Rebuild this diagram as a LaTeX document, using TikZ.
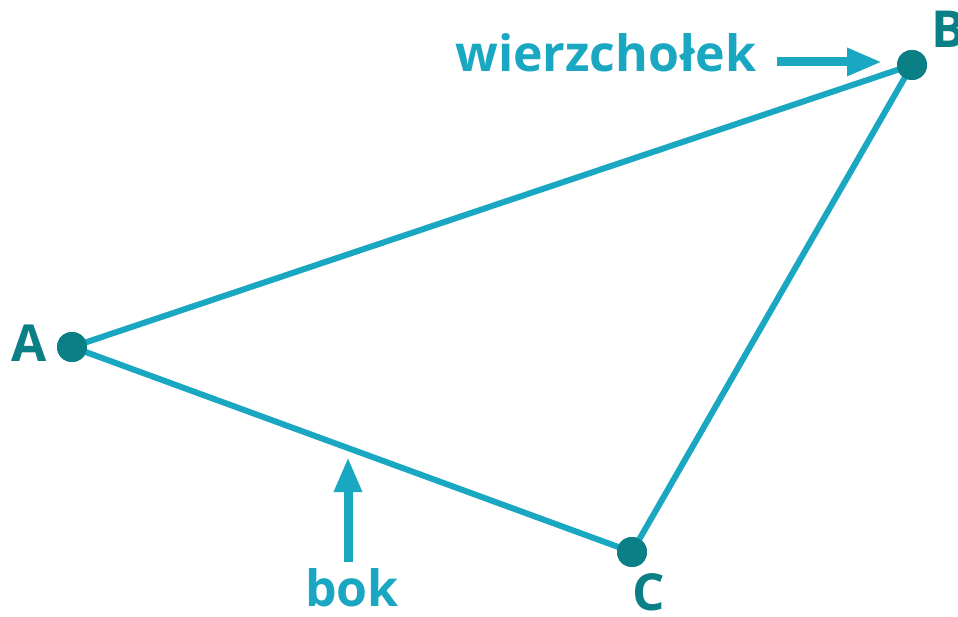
\documentclass[tikz,border=0pt]{standalone}
\usepackage{fontspec}
\setmainfont{Open Sans}
\usetikzlibrary{arrows.meta}
\definecolor{linecol}{HTML}{1AA7C2}
\definecolor{dotcol}{HTML}{0B7F86}
\tikzset{
  side/.style={draw=linecol, line width=6pt},
  vertex/.style={circle, fill=dotcol, minimum size=30pt, inner sep=0pt},
  vlabel/.style={text=dotcol, font=\fontsize{51}{51}\selectfont\bfseries, anchor=base, inner sep=0pt, text depth=0pt},
  tlabel/.style={text=linecol, font=\fontsize{50}{50}\selectfont\bfseries, anchor=base west, inner sep=0pt, text depth=0pt},
  pointer/.style={draw=linecol, line width=9pt, -{Triangle[length=35pt,width=26pt]}},
}
\begin{document}
\begin{tikzpicture}[x=1pt,y=-1pt]
\useasboundingbox (0,0) rectangle (958,617);
\node[vertex] (A) at (72,347) {};
\node[vertex] (B) at (912,65) {};
\node[vertex] (C) at (632,552) {};
\draw[side] (A.center) -- (B.center) -- (C.center) -- cycle;
\node[vertex] at (A) {};
\node[vertex] at (B) {};
\node[vertex] at (C) {};
\node[vlabel] (la) at (29,362) {A};
\node[vlabel, anchor=base west] (lb) at (931,48) {B};
\node[vlabel] (lc) at (649,610) {C};
\node[tlabel] (w) at (455,72) {wierzchołek};
\node[tlabel] (bk) at (305,606) {bok};
\coordinate (wt) at (882,62);
\coordinate (ws) at (777,62);
\coordinate (bt) at (348,457);
\coordinate (bs) at (348,562);
\draw[pointer] (ws) -- (wt);
\draw[pointer] (bs) -- (bt);
\end{tikzpicture}
\end{document}
